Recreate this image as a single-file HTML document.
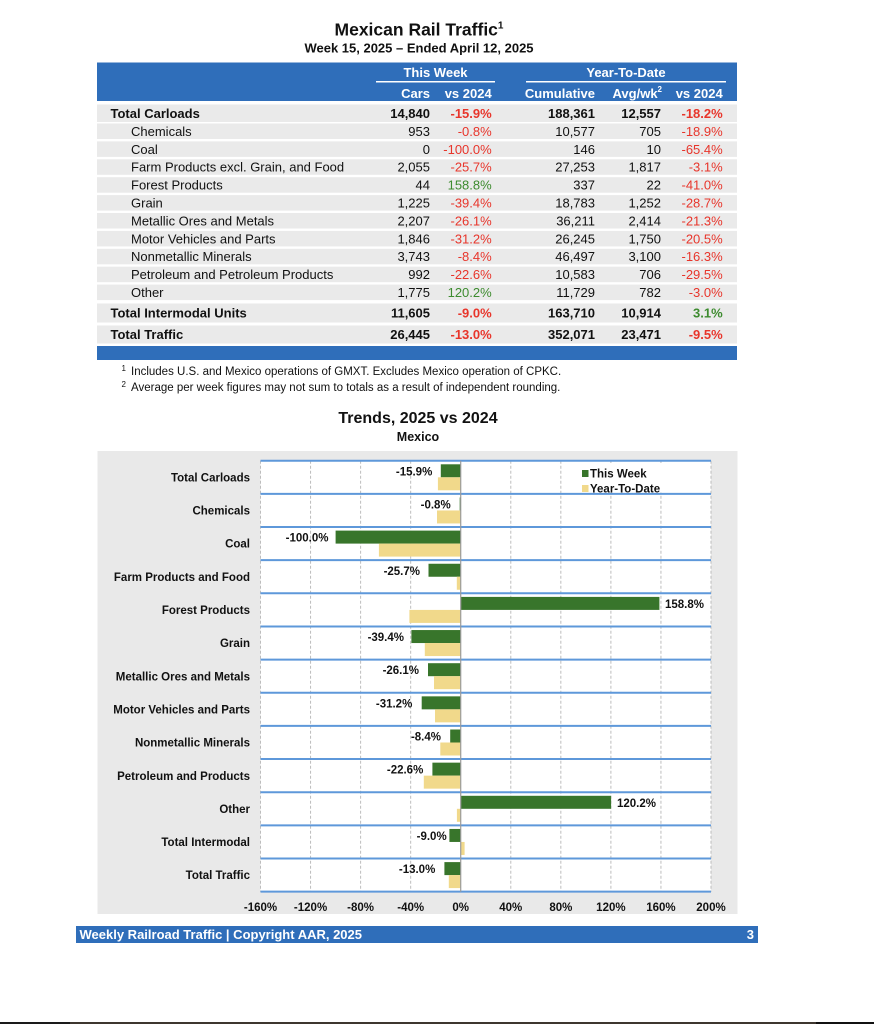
<!DOCTYPE html>
<html><head><meta charset="utf-8"><style>
html,body{margin:0;padding:0;background:#fff;}
svg{display:block;}
text{font-family:"Liberation Sans",Arial,Helvetica,sans-serif;}
.b{font-weight:bold;}
.w{fill:#fff;}
.r{fill:#E8352B;}
.g{fill:#3D8B2F;}
.t13{font-size:13px;}
.t{font-size:11.5px;font-weight:bold;fill:#111;}
</style></head><body>
<svg width="874" height="1024" viewBox="0 0 874 1024" xmlns="http://www.w3.org/2000/svg">
<rect x="0" y="0" width="874" height="1024" fill="#fff"/>
<!-- Title -->
<text x="419" y="35.5" text-anchor="middle" class="b" font-size="17.5" fill="#111">Mexican Rail Traffic<tspan font-size="10" dy="-7">1</tspan></text>
<text x="419" y="52.5" text-anchor="middle" class="b" font-size="13" fill="#111">Week 15, 2025 – Ended April 12, 2025</text>

<!-- Header -->
<rect x="97" y="62.5" width="640" height="38.5" fill="#2F6EBA"/>
<text x="435.5" y="77" text-anchor="middle" class="b w t13">This Week</text>
<text x="626" y="77" text-anchor="middle" class="b w t13">Year-To-Date</text>
<rect x="376" y="81" width="119" height="1.5" fill="#fff"/>
<rect x="526" y="81" width="200" height="1.5" fill="#fff"/>
<g class="b w t13" text-anchor="end">
<text x="430" y="98">Cars</text>
<text x="491.7" y="98">vs 2024</text>
<text x="595" y="98">Cumulative</text>
<text x="662" y="98">Avg/wk<tspan font-size="8" dy="-6">2</tspan></text>
<text x="722.7" y="98">vs 2024</text>
</g>

<!-- Row backgrounds -->
<g fill="#EAEAEA">
<rect x="97" y="104.5" width="640" height="17.5"/>
<rect x="97" y="123.5" width="640" height="15.5"/>
<rect x="97" y="141.4" width="640" height="15.5"/>
<rect x="97" y="159.3" width="640" height="15.5"/>
<rect x="97" y="177.2" width="640" height="15.5"/>
<rect x="97" y="195.1" width="640" height="15.5"/>
<rect x="97" y="213.0" width="640" height="15.5"/>
<rect x="97" y="230.9" width="640" height="15.5"/>
<rect x="97" y="248.8" width="640" height="15.5"/>
<rect x="97" y="266.7" width="640" height="15.5"/>
<rect x="97" y="284.6" width="640" height="15.5"/>
<rect x="97" y="303.5" width="640" height="19"/>
<rect x="97" y="325.5" width="640" height="18"/>
</g>
<rect x="97" y="346" width="640" height="14" fill="#2F6EBA"/>

<!-- Rows text -->
<g class="t13" fill="#111">
<!-- Total Carloads -->
<text x="110.5" y="117.9" class="b">Total Carloads</text>
<text x="430" y="117.9" text-anchor="end" class="b">14,840</text>
<text x="491.7" y="117.9" text-anchor="end" class="b r">-15.9%</text>
<text x="595" y="117.9" text-anchor="end" class="b">188,361</text>
<text x="661" y="117.9" text-anchor="end" class="b">12,557</text>
<text x="722.7" y="117.9" text-anchor="end" class="b r">-18.2%</text>

<text x="131" y="135.9">Chemicals</text>
<text x="430" y="135.9" text-anchor="end">953</text>
<text x="491.7" y="135.9" text-anchor="end" class="r">-0.8%</text>
<text x="595" y="135.9" text-anchor="end">10,577</text>
<text x="661" y="135.9" text-anchor="end">705</text>
<text x="722.7" y="135.9" text-anchor="end" class="r">-18.9%</text>

<text x="131" y="153.8">Coal</text>
<text x="430" y="153.8" text-anchor="end">0</text>
<text x="491.7" y="153.8" text-anchor="end" class="r">-100.0%</text>
<text x="595" y="153.8" text-anchor="end">146</text>
<text x="661" y="153.8" text-anchor="end">10</text>
<text x="722.7" y="153.8" text-anchor="end" class="r">-65.4%</text>

<text x="131" y="171.7">Farm Products excl. Grain, and Food</text>
<text x="430" y="171.7" text-anchor="end">2,055</text>
<text x="491.7" y="171.7" text-anchor="end" class="r">-25.7%</text>
<text x="595" y="171.7" text-anchor="end">27,253</text>
<text x="661" y="171.7" text-anchor="end">1,817</text>
<text x="722.7" y="171.7" text-anchor="end" class="r">-3.1%</text>

<text x="131" y="189.6">Forest Products</text>
<text x="430" y="189.6" text-anchor="end">44</text>
<text x="491.7" y="189.6" text-anchor="end" class="g">158.8%</text>
<text x="595" y="189.6" text-anchor="end">337</text>
<text x="661" y="189.6" text-anchor="end">22</text>
<text x="722.7" y="189.6" text-anchor="end" class="r">-41.0%</text>

<text x="131" y="207.5">Grain</text>
<text x="430" y="207.5" text-anchor="end">1,225</text>
<text x="491.7" y="207.5" text-anchor="end" class="r">-39.4%</text>
<text x="595" y="207.5" text-anchor="end">18,783</text>
<text x="661" y="207.5" text-anchor="end">1,252</text>
<text x="722.7" y="207.5" text-anchor="end" class="r">-28.7%</text>

<text x="131" y="225.4">Metallic Ores and Metals</text>
<text x="430" y="225.4" text-anchor="end">2,207</text>
<text x="491.7" y="225.4" text-anchor="end" class="r">-26.1%</text>
<text x="595" y="225.4" text-anchor="end">36,211</text>
<text x="661" y="225.4" text-anchor="end">2,414</text>
<text x="722.7" y="225.4" text-anchor="end" class="r">-21.3%</text>

<text x="131" y="243.3">Motor Vehicles and Parts</text>
<text x="430" y="243.3" text-anchor="end">1,846</text>
<text x="491.7" y="243.3" text-anchor="end" class="r">-31.2%</text>
<text x="595" y="243.3" text-anchor="end">26,245</text>
<text x="661" y="243.3" text-anchor="end">1,750</text>
<text x="722.7" y="243.3" text-anchor="end" class="r">-20.5%</text>

<text x="131" y="261.2">Nonmetallic Minerals</text>
<text x="430" y="261.2" text-anchor="end">3,743</text>
<text x="491.7" y="261.2" text-anchor="end" class="r">-8.4%</text>
<text x="595" y="261.2" text-anchor="end">46,497</text>
<text x="661" y="261.2" text-anchor="end">3,100</text>
<text x="722.7" y="261.2" text-anchor="end" class="r">-16.3%</text>

<text x="131" y="279.1">Petroleum and Petroleum Products</text>
<text x="430" y="279.1" text-anchor="end">992</text>
<text x="491.7" y="279.1" text-anchor="end" class="r">-22.6%</text>
<text x="595" y="279.1" text-anchor="end">10,583</text>
<text x="661" y="279.1" text-anchor="end">706</text>
<text x="722.7" y="279.1" text-anchor="end" class="r">-29.5%</text>

<text x="131" y="297.0">Other</text>
<text x="430" y="297.0" text-anchor="end">1,775</text>
<text x="491.7" y="297.0" text-anchor="end" class="g">120.2%</text>
<text x="595" y="297.0" text-anchor="end">11,729</text>
<text x="661" y="297.0" text-anchor="end">782</text>
<text x="722.7" y="297.0" text-anchor="end" class="r">-3.0%</text>

<text x="110.5" y="317.7" class="b">Total Intermodal Units</text>
<text x="430" y="317.7" text-anchor="end" class="b">11,605</text>
<text x="491.7" y="317.7" text-anchor="end" class="b r">-9.0%</text>
<text x="595" y="317.7" text-anchor="end" class="b">163,710</text>
<text x="661" y="317.7" text-anchor="end" class="b">10,914</text>
<text x="722.7" y="317.7" text-anchor="end" class="b g">3.1%</text>

<text x="110.5" y="339.1" class="b">Total Traffic</text>
<text x="430" y="339.1" text-anchor="end" class="b">26,445</text>
<text x="491.7" y="339.1" text-anchor="end" class="b r">-13.0%</text>
<text x="595" y="339.1" text-anchor="end" class="b">352,071</text>
<text x="661" y="339.1" text-anchor="end" class="b">23,471</text>
<text x="722.7" y="339.1" text-anchor="end" class="b r">-9.5%</text>
</g>

<!-- Footnotes -->
<g font-size="11.5" fill="#111">
<text x="121.5" y="371" font-size="8">1</text>
<text x="131" y="375">Includes U.S. and Mexico operations of GMXT. Excludes Mexico operation of CPKC.</text>
<text x="121.5" y="387" font-size="8">2</text>
<text x="131" y="391">Average per week figures may not sum to totals as a result of independent rounding.</text>
</g>

<!-- Chart titles -->
<text x="418" y="423" text-anchor="middle" class="b" font-size="16" fill="#111">Trends, 2025 vs 2024</text>
<text x="418" y="441" text-anchor="middle" class="b" font-size="12.5" fill="#111">Mexico</text>

<!-- Chart bg -->
<rect x="97.5" y="451" width="640" height="463" fill="#E9E9E9"/>
<rect x="260.5" y="460.7" width="450.5" height="431" fill="#fff"/>

<!-- Vertical gridlines -->
<g stroke="#BDBDBD" stroke-width="1" stroke-dasharray="3,2">
<line x1="260.5" y1="460.7" x2="260.5" y2="891.7"/>
<line x1="310.56" y1="460.7" x2="310.56" y2="891.7"/>
<line x1="360.61" y1="460.7" x2="360.61" y2="891.7"/>
<line x1="410.67" y1="460.7" x2="410.67" y2="891.7"/>
<line x1="510.78" y1="460.7" x2="510.78" y2="891.7"/>
<line x1="560.83" y1="460.7" x2="560.83" y2="891.7"/>
<line x1="610.89" y1="460.7" x2="610.89" y2="891.7"/>
<line x1="660.94" y1="460.7" x2="660.94" y2="891.7"/>
<line x1="711" y1="460.7" x2="711" y2="891.7"/>
</g>

<!-- Legend background -->
<rect x="579" y="463" width="85" height="29.5" fill="#fff"/>

<!-- Row lines -->
<g stroke="#5E98DA" stroke-width="2">
<line x1="260.5" y1="460.7" x2="711" y2="460.7"/>
<line x1="260.5" y1="493.85" x2="711" y2="493.85"/>
<line x1="260.5" y1="527.0" x2="711" y2="527.0"/>
<line x1="260.5" y1="560.15" x2="711" y2="560.15"/>
<line x1="260.5" y1="593.3" x2="711" y2="593.3"/>
<line x1="260.5" y1="626.45" x2="711" y2="626.45"/>
<line x1="260.5" y1="659.6" x2="711" y2="659.6"/>
<line x1="260.5" y1="692.75" x2="711" y2="692.75"/>
<line x1="260.5" y1="725.9" x2="711" y2="725.9"/>
<line x1="260.5" y1="759.05" x2="711" y2="759.05"/>
<line x1="260.5" y1="792.2" x2="711" y2="792.2"/>
<line x1="260.5" y1="825.35" x2="711" y2="825.35"/>
<line x1="260.5" y1="858.5" x2="711" y2="858.5"/>
<line x1="260.5" y1="891.65" x2="711" y2="891.65"/>
</g>

<!-- This Week bars -->
<g fill="#38752B">
<rect x="440.8" y="464.3" width="19.9" height="13"/>
<rect x="459.7" y="497.45" width="1.0" height="13"/>
<rect x="335.6" y="530.6" width="125.1" height="13"/>
<rect x="428.5" y="563.75" width="32.2" height="13"/>
<rect x="460.7" y="596.9" width="198.7" height="13"/>
<rect x="411.4" y="630.05" width="49.3" height="13"/>
<rect x="428.0" y="663.2" width="32.7" height="13"/>
<rect x="421.7" y="696.35" width="39.0" height="13"/>
<rect x="450.2" y="729.5" width="10.5" height="13"/>
<rect x="432.4" y="762.65" width="28.3" height="13"/>
<rect x="460.7" y="795.8" width="150.4" height="13"/>
<rect x="449.4" y="828.95" width="11.3" height="13"/>
<rect x="444.4" y="862.1" width="16.3" height="13"/>
</g>
<!-- YTD bars -->
<g fill="#F1D98B">
<rect x="437.9" y="477.3" width="22.8" height="13"/>
<rect x="437.0" y="510.45" width="23.7" height="13"/>
<rect x="378.9" y="543.6" width="81.8" height="13"/>
<rect x="456.8" y="576.75" width="3.9" height="13"/>
<rect x="409.4" y="609.9" width="51.3" height="13"/>
<rect x="424.8" y="643.05" width="35.9" height="13"/>
<rect x="434.0" y="676.2" width="26.7" height="13"/>
<rect x="435.0" y="709.35" width="25.7" height="13"/>
<rect x="440.3" y="742.5" width="20.4" height="13"/>
<rect x="423.8" y="775.65" width="36.9" height="13"/>
<rect x="456.9" y="808.8" width="3.8" height="13"/>
<rect x="460.7" y="841.95" width="3.9" height="13"/>
<rect x="448.8" y="875.1" width="11.9" height="13"/>
</g>

<!-- Zero line -->
<line x1="460.72" y1="460.7" x2="460.72" y2="891.7" stroke="#9A9A9A" stroke-width="1.2"/>

<!-- Data labels -->
<g class="t">
<text x="432.3" y="475.3" text-anchor="end">-15.9%</text>
<text x="450.7" y="508.45" text-anchor="end">-0.8%</text>
<text x="328.5" y="541.6" text-anchor="end">-100.0%</text>
<text x="420" y="574.75" text-anchor="end">-25.7%</text>
<text x="665" y="607.9">158.8%</text>
<text x="404" y="641.05" text-anchor="end">-39.4%</text>
<text x="419" y="674.2" text-anchor="end">-26.1%</text>
<text x="412.3" y="707.35" text-anchor="end">-31.2%</text>
<text x="441" y="740.5" text-anchor="end">-8.4%</text>
<text x="423.3" y="773.65" text-anchor="end">-22.6%</text>
<text x="617" y="806.8">120.2%</text>
<text x="446.7" y="839.95" text-anchor="end">-9.0%</text>
<text x="435.3" y="873.1" text-anchor="end">-13.0%</text>
</g>

<!-- Category labels -->
<g class="t" text-anchor="end">
<text x="250" y="481.4">Total Carloads</text>
<text x="250" y="514.55">Chemicals</text>
<text x="250" y="547.7">Coal</text>
<text x="250" y="580.85">Farm Products and Food</text>
<text x="250" y="614.0">Forest Products</text>
<text x="250" y="647.15">Grain</text>
<text x="250" y="680.3">Metallic Ores and Metals</text>
<text x="250" y="713.45">Motor Vehicles and Parts</text>
<text x="250" y="746.6">Nonmetallic Minerals</text>
<text x="250" y="779.75">Petroleum and Products</text>
<text x="250" y="812.9">Other</text>
<text x="250" y="846.05">Total Intermodal</text>
<text x="250" y="879.2">Total Traffic</text>
</g>

<!-- Axis labels -->
<g class="t" text-anchor="middle">
<text x="260.5" y="911">-160%</text>
<text x="310.56" y="911">-120%</text>
<text x="360.61" y="911">-80%</text>
<text x="410.67" y="911">-40%</text>
<text x="460.72" y="911">0%</text>
<text x="510.78" y="911">40%</text>
<text x="560.83" y="911">80%</text>
<text x="610.89" y="911">120%</text>
<text x="660.94" y="911">160%</text>
<text x="711" y="911">200%</text>
</g>

<!-- Legend -->
<rect x="582" y="470" width="6.5" height="7" fill="#38752B"/>
<rect x="582" y="485" width="6.5" height="7" fill="#F1D98B"/>
<text x="590" y="477.4" class="t">This Week</text>
<text x="590" y="492.4" class="t">Year-To-Date</text>

<!-- Footer -->
<rect x="76" y="926" width="682" height="17" fill="#2F6EBA"/>
<text x="79.5" y="939" class="b w t13">Weekly Railroad Traffic | Copyright AAR, 2025</text>
<text x="754" y="939" text-anchor="end" class="b w t13">3</text>

<!-- Bottom strip -->
<rect x="0" y="1022" width="874" height="2" fill="#3E362F"/>
<rect x="816" y="1022" width="58" height="2" fill="#111"/>
<rect x="0" y="1022" width="70" height="2" fill="#1a1a1a"/>
</svg>
</body></html>
